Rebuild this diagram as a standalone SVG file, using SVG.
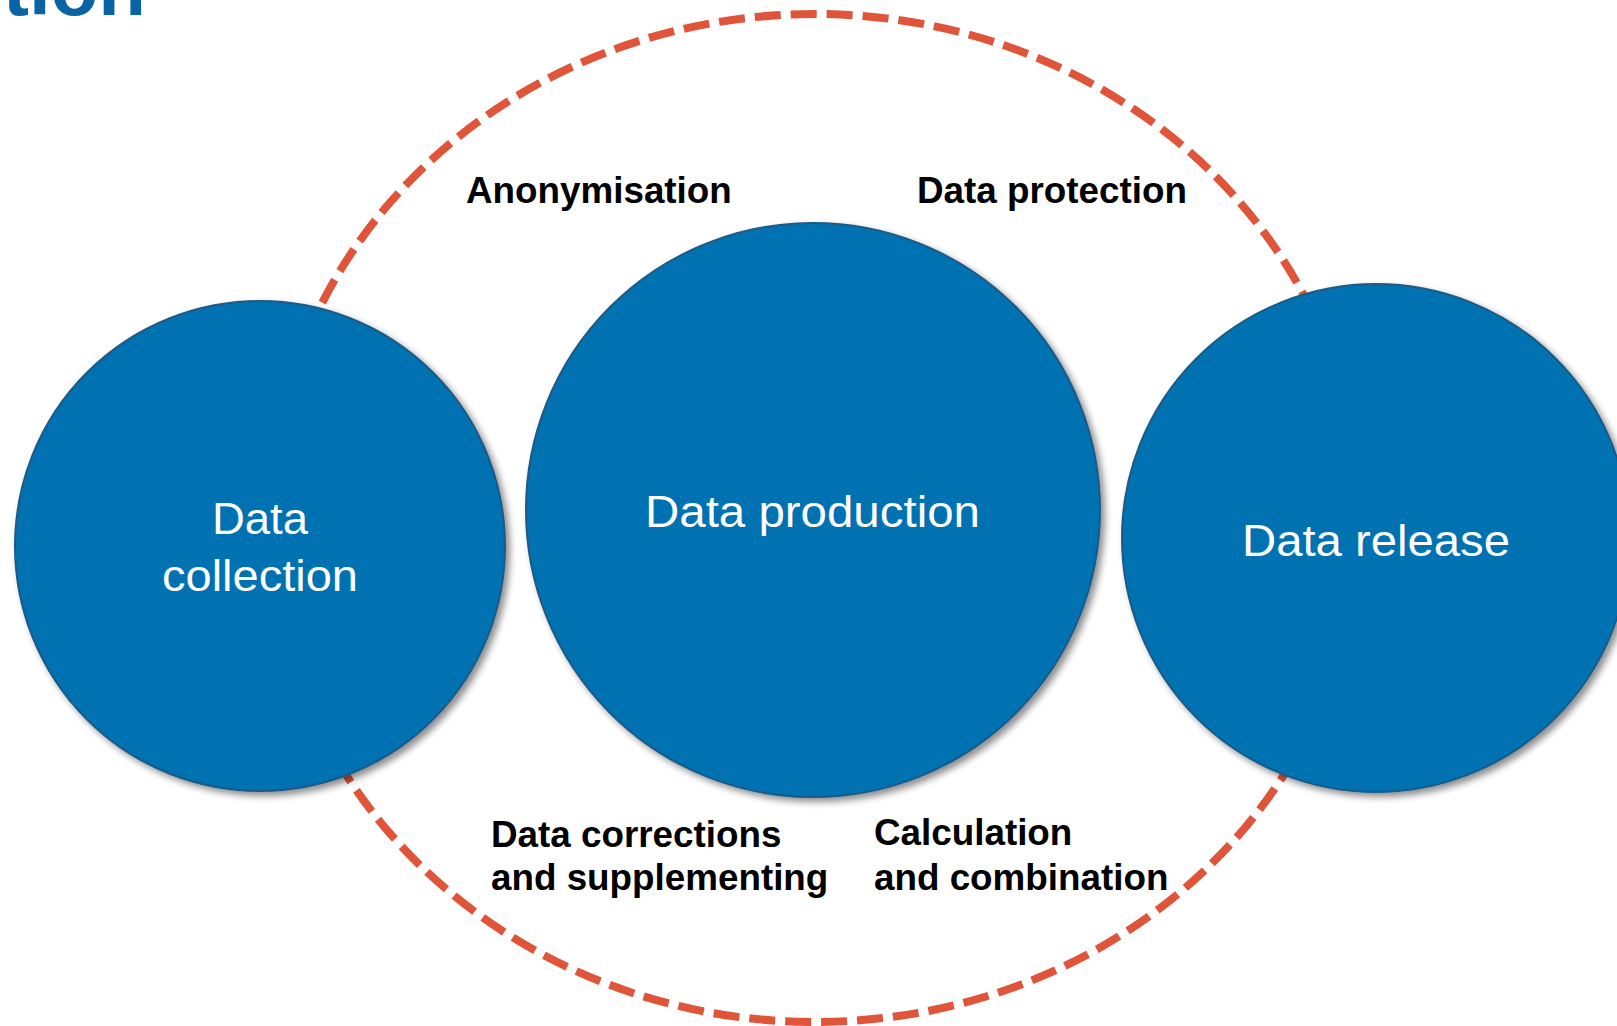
<svg xmlns="http://www.w3.org/2000/svg" width="1617" height="1026" viewBox="0 0 1617 1026">
  <style>
    .node { fill: #0071b1; stroke: #1b5a86; stroke-width: 2; filter: url(#shadow); }
    .ntext { fill: #ffffff; font-family: "Liberation Sans", Arial, sans-serif; font-size: 44px; text-anchor: middle; }
    .label { fill: #000000; font-family: "Liberation Sans", Arial, sans-serif; font-size: 36.8px; font-weight: bold; }
    .cycle { fill: none; stroke: #e0553a; stroke-width: 8; stroke-dasharray: 26 10; }
  </style>
  <defs>
    <filter id="shadow" x="-10%" y="-10%" width="125%" height="125%">
      <feGaussianBlur in="SourceAlpha" stdDeviation="3.5"/>
      <feOffset dx="4" dy="4" result="b"/>
      <feComponentTransfer><feFuncA type="linear" slope="0.45"/></feComponentTransfer>
      <feMerge><feMergeNode/><feMergeNode in="SourceGraphic"/></feMerge>
    </filter>
  </defs>
  <rect width="1617" height="1026" fill="#ffffff"/>
  <text x="146" y="15" font-family="Liberation Sans, Arial, sans-serif" font-size="78" font-weight="bold" fill="#0a64a4" text-anchor="end">tion</text>

  <g id="connectors">
    <ellipse class="cycle" cx="815" cy="518" rx="545" ry="504"/>
  </g>

  <g id="labels">
    <text class="label" x="466" y="203">Anonymisation</text>
    <text class="label" x="917" y="203">Data protection</text>
    <text class="label" x="491" y="847">Data corrections</text>
    <text class="label" x="491" y="890">and supplementing</text>
    <text class="label" x="874" y="845">Calculation</text>
    <text class="label" x="874" y="890">and combination</text>
  </g>

  <g id="node-collection">
    <circle class="node" cx="260" cy="546" r="245"/>
    <text class="ntext" x="260" y="534" textLength="96" lengthAdjust="spacingAndGlyphs">Data</text>
    <text class="ntext" x="260" y="591" textLength="196" lengthAdjust="spacingAndGlyphs">collection</text>
  </g>
  <g id="node-production">
    <circle class="node" cx="813" cy="510" r="287"/>
    <text class="ntext" x="812.5" y="527" textLength="335" lengthAdjust="spacingAndGlyphs">Data production</text>
  </g>
  <g id="node-release">
    <circle class="node" cx="1376" cy="538" r="254"/>
    <text class="ntext" x="1376" y="556" textLength="268" lengthAdjust="spacingAndGlyphs">Data release</text>
  </g>
</svg>
